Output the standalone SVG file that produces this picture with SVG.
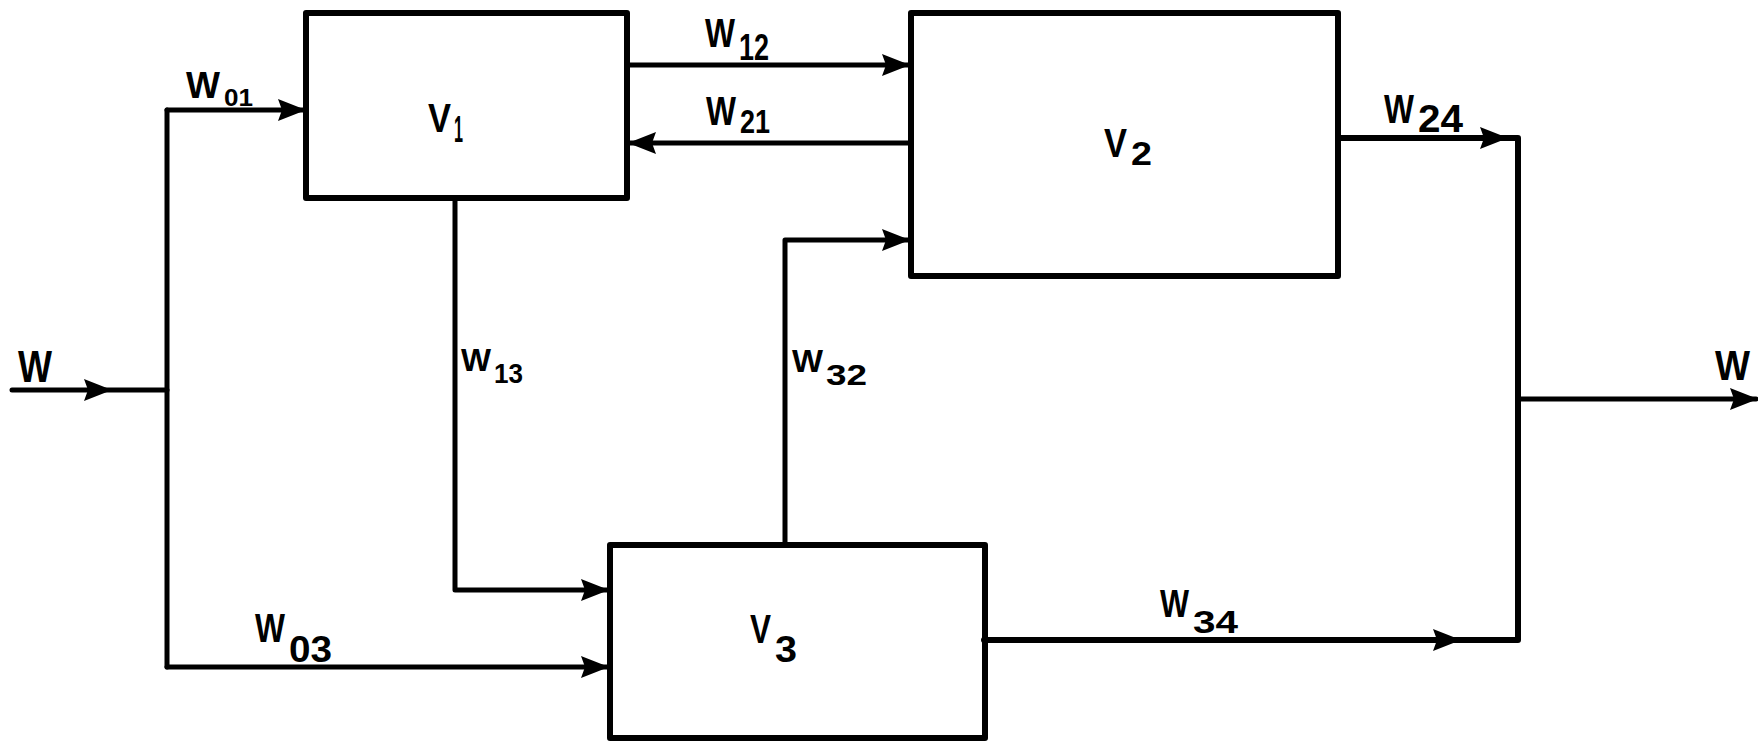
<svg xmlns="http://www.w3.org/2000/svg" width="1758" height="742" viewBox="0 0 1758 742">
<style>
.box{fill:none;stroke:#000;stroke-width:6;stroke-linejoin:round}
.ln{fill:none;stroke:#000;stroke-width:5;stroke-linejoin:round;stroke-linecap:round}
.t{font-family:"Liberation Sans",Arial,sans-serif;font-weight:bold;fill:#000}
</style>
<defs>
<path id="ah" d="M0,0 L-28,-11 L-24,0 L-28,11 Z" fill="#000"/>
</defs>
<rect width="1758" height="742" fill="#fff"/>
<g id="connectors">
<path class="ln" d="M12,390 H167"/>
<path class="ln" d="M167,110 V667"/>
<path class="ln" d="M167,110 H306"/>
<path class="ln" d="M167,667 H609"/>
<path class="ln" d="M627,65 H910"/>
<path class="ln" d="M910,143 H628"/>
<path class="ln" d="M455,198 V590 H609"/>
<path class="ln" d="M785,545 V240 H910"/>
<path class="ln" d="M1338,138 H1518 V640 H984" style="stroke-width:6"/>
<path class="ln" d="M1518,399 H1756"/>
<use href="#ah" transform="translate(112,390)"/>
<use href="#ah" transform="translate(306,110)"/>
<use href="#ah" transform="translate(609,667)"/>
<use href="#ah" transform="translate(609,590)"/>
<use href="#ah" transform="translate(910,65)"/>
<use href="#ah" transform="translate(628,143) rotate(180)"/>
<use href="#ah" transform="translate(910,240)"/>
<use href="#ah" transform="translate(1508,138)"/>
<use href="#ah" transform="translate(1461,640)"/>
<use href="#ah" transform="translate(1758,399)"/>
</g>
<g id="V1">
<rect class="box" x="306" y="13" width="321" height="185"/>
<text class="t" x="428" y="132" font-size="40" textLength="23" lengthAdjust="spacingAndGlyphs">V</text>
<text class="t" x="454" y="142" font-size="36" textLength="9" lengthAdjust="spacingAndGlyphs">1</text>
</g>
<g id="V2">
<rect class="box" x="911" y="13" width="427" height="263"/>
<text class="t" x="1104" y="157" font-size="40" textLength="23" lengthAdjust="spacingAndGlyphs">V</text>
<text class="t" x="1131" y="165" font-size="34" textLength="21" lengthAdjust="spacingAndGlyphs">2</text>
</g>
<g id="V3">
<rect class="box" x="610" y="545" width="375" height="193"/>
<text class="t" x="750" y="643" font-size="40" textLength="21" lengthAdjust="spacingAndGlyphs">V</text>
<text class="t" x="775" y="662" font-size="36" textLength="22" lengthAdjust="spacingAndGlyphs">3</text>
</g>
<g id="labels">
<text class="t" x="18" y="382" font-size="44" textLength="34" lengthAdjust="spacingAndGlyphs">W</text>
<text class="t" x="186" y="98" font-size="36" textLength="34" lengthAdjust="spacingAndGlyphs">W</text>
<text class="t" x="224" y="106" font-size="24" textLength="29" lengthAdjust="spacingAndGlyphs">01</text>
<text class="t" x="705" y="47" font-size="40" textLength="30" lengthAdjust="spacingAndGlyphs">W</text>
<text class="t" x="739" y="60" font-size="36" textLength="30" lengthAdjust="spacingAndGlyphs">12</text>
<text class="t" x="706" y="125" font-size="40" textLength="30" lengthAdjust="spacingAndGlyphs">W</text>
<text class="t" x="740" y="133" font-size="34" textLength="30" lengthAdjust="spacingAndGlyphs">21</text>
<text class="t" x="461" y="371" font-size="31" textLength="30" lengthAdjust="spacingAndGlyphs">W</text>
<text class="t" x="494" y="383" font-size="28" textLength="29" lengthAdjust="spacingAndGlyphs">13</text>
<text class="t" x="792" y="372" font-size="31" textLength="31" lengthAdjust="spacingAndGlyphs">W</text>
<text class="t" x="826" y="385" font-size="30" textLength="41" lengthAdjust="spacingAndGlyphs">32</text>
<text class="t" x="1384" y="123" font-size="40" textLength="30" lengthAdjust="spacingAndGlyphs">W</text>
<text class="t" x="1418" y="132" font-size="38" textLength="45" lengthAdjust="spacingAndGlyphs">24</text>
<text class="t" x="255" y="642" font-size="40" textLength="30" lengthAdjust="spacingAndGlyphs">W</text>
<text class="t" x="289" y="662" font-size="36" textLength="43" lengthAdjust="spacingAndGlyphs">03</text>
<text class="t" x="1160" y="617" font-size="39" textLength="29" lengthAdjust="spacingAndGlyphs">W</text>
<text class="t" x="1193" y="633" font-size="32" textLength="45" lengthAdjust="spacingAndGlyphs">34</text>
<text class="t" x="1715" y="380" font-size="42" textLength="35" lengthAdjust="spacingAndGlyphs">W</text>
</g>
</svg>
